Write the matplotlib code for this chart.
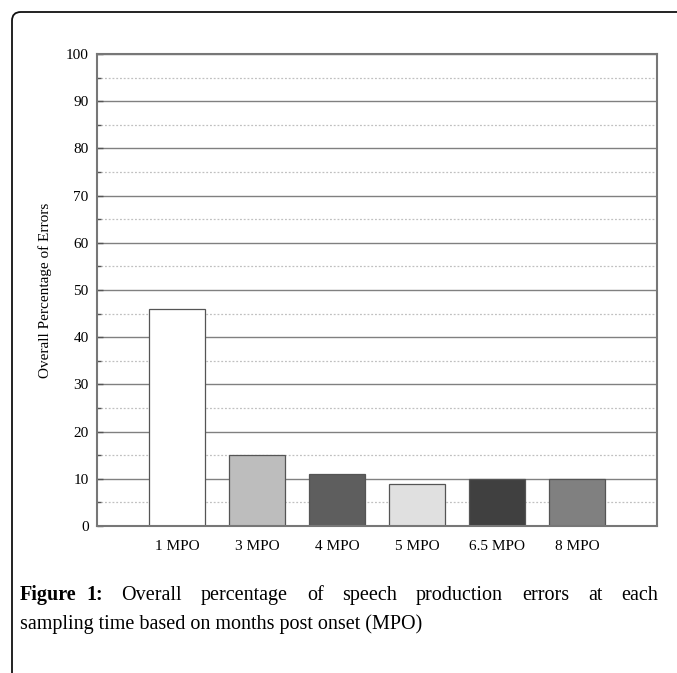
import matplotlib
matplotlib.use("Agg")
import matplotlib.pyplot as plt
from matplotlib.patches import FancyBboxPatch
from matplotlib.ticker import MultipleLocator

plt.rcParams['font.family'] = 'serif'
plt.rcParams['font.serif'] = ['Liberation Serif']

categories = ["1 MPO", "3 MPO", "4 MPO", "5 MPO", "6.5 MPO", "8 MPO"]
values = [46, 15, 11, 9, 10, 10]
bar_colors = ["#ffffff", "#bdbdbd", "#5e5e5e", "#e0e0e0", "#404040", "#808080"]
y_label = "Overall Percentage of Errors"
caption_bold = "Figure 1:"
caption_line1 = "Overall percentage of speech production errors at each"
caption_line2 = "sampling time based on months post onset (MPO)"

W, H = 677, 673
fig = plt.figure(figsize=(W / 100, H / 100), dpi=100)

# page frame
frame = FancyBboxPatch((12 / W, -0.1), 1.2, (H - 12) / H + 0.1,
                       boxstyle="round,pad=0,rounding_size=0.013",
                       transform=fig.transFigure, fill=False,
                       edgecolor="#111111", linewidth=1.3)
fig.patches.append(frame)

ax = fig.add_axes([97 / W, 1 - 526 / H, (657 - 97) / W, (526 - 54) / H])
x = list(range(len(categories)))
ax.set_axisbelow(True)
ax.yaxis.set_major_locator(MultipleLocator(10))
ax.yaxis.set_minor_locator(MultipleLocator(5))
ax.grid(axis="y", which="major", color="#808080", linewidth=1.0)
ax.grid(axis="y", which="minor", color="#c0c0c0", linewidth=0.9, linestyle=(0, (1.5, 1.5)))
ax.bar(x, values, width=0.7, color=bar_colors, edgecolor="#555555", linewidth=0.9)
ax.set_xlim(-1, 6)
ax.set_ylim(0, 100)
ax.set_xticks(x)
ax.set_xticklabels(categories, fontsize=11, family='Liberation Serif')
ax.tick_params(axis="x", length=0, pad=10)
ax.tick_params(axis="y", which="major", direction="in", length=4, width=1, color="#555555", labelsize=11, pad=6)
ax.tick_params(axis="y", which="minor", direction="in", length=3, width=1, color="#555555")
for lab in ax.get_yticklabels():
    lab.set_family('Liberation Serif')
for s in ax.spines.values():
    s.set_color("#777777")
    s.set_linewidth(1.5)
ax.set_ylabel(y_label, fontsize=11, labelpad=10, family='Liberation Serif')

# caption
fig.canvas.draw()
r = fig.canvas.get_renderer()
cap_font = 'Liberation Serif'
x0, x1 = 20, 658
y1 = 1 - 600 / H
y2 = 1 - 629 / H
fs = 14.5
fig.text(x0 / W, y2, caption_line2, fontsize=fs, family=cap_font, ha="left", va="baseline")

words = [(caption_bold.split()[0], "bold"), (caption_bold.split()[1], "bold")] + [(w, "normal") for w in caption_line1.split()]
texts = []
total = 0
for w, wt in words:
    t = fig.text(0, y1, w, fontsize=fs, fontweight=wt, family=cap_font, ha="left", va="baseline")
    bb = t.get_window_extent(renderer=r)
    texts.append((t, bb.width))
    total += bb.width
n_gaps = len(words) - 1.5
gap = (x1 - x0 - total) / n_gaps
cx = x0
for i, (t, wd) in enumerate(texts):
    t.set_x(cx / W)
    cx += wd + (gap * 0.5 if i == 0 else gap)

fig.savefig("out.png", dpi=100)
